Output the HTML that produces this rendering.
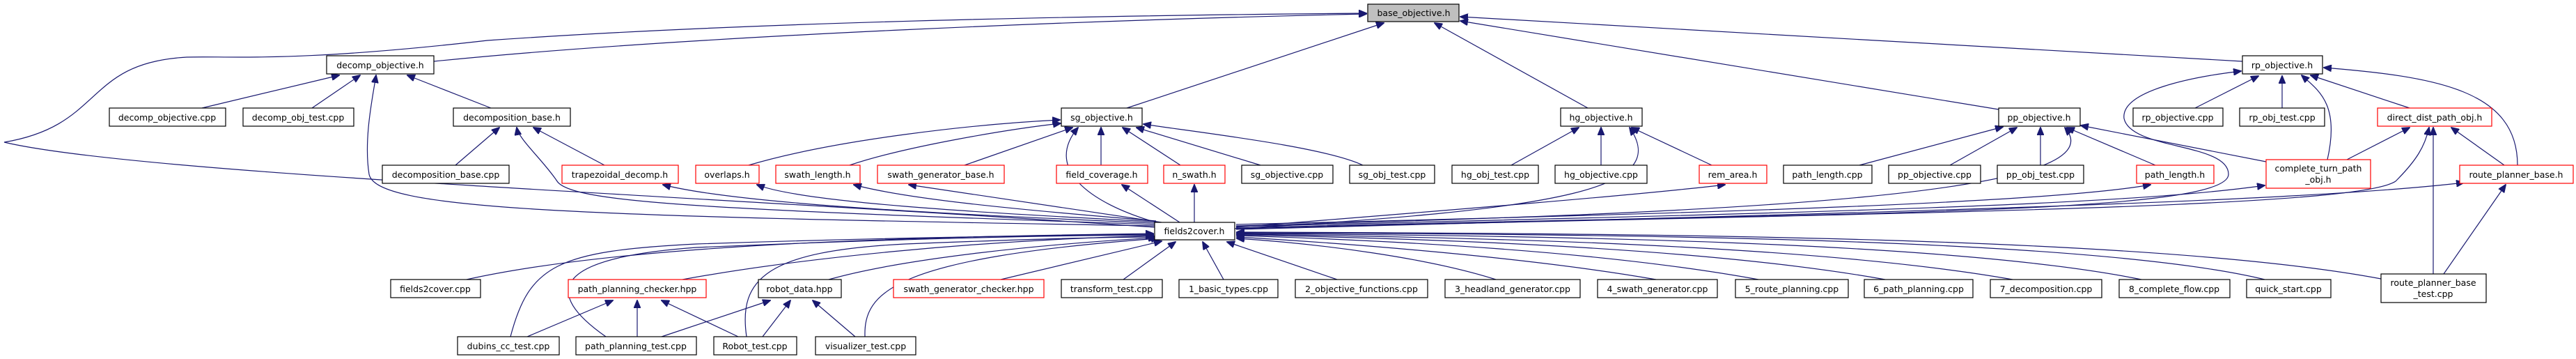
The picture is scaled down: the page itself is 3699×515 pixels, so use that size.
<!DOCTYPE html>
<html><head><meta charset="utf-8"><style>
html,body{margin:0;padding:0;background:#fff;}
svg{display:block;}
text{font-family:"DejaVu Sans","Liberation Sans",sans-serif;font-size:12.5px;fill:#000;text-anchor:middle;}
.n{fill:#fff;stroke:#000;stroke-width:1.2;}
.r{fill:#fff;stroke:#ff0000;stroke-width:1.2;}
.e{fill:none;stroke:#191970;stroke-width:1.2;}
</style></head><body>
<svg width="3699" height="515" viewBox="0 0 3699 515" xmlns="http://www.w3.org/2000/svg">
<defs><marker id="a" markerWidth="12" markerHeight="10" refX="11" refY="5" orient="auto" markerUnits="userSpaceOnUse"><path d="M0,0 L12,5 L0,10 z" fill="#191970" stroke="#191970"/></marker></defs>
<g class="e" marker-end="url(#a)">
<!-- to base_objective.h -->
<path d="M623,88 C1000,50 1600,28 1962,20"/>
<path d="M1658,326 C1000,280 200,250 6,204 C150,180 120,90 268,82 C330,80 420,90 700,58 C1100,30 1600,22 1962,19"/>
<path d="M1618,155 L1987,33"/>
<path d="M2280,155 L2060,33"/>
<path d="M2870,157 L2097,30"/>
<path d="M3220,88 L2097,24"/>
<!-- decomp_objective.h -->
<path d="M290,155 L487,108"/>
<path d="M448,155 L517,108"/>
<path d="M705,155 L585,108"/>
<path d="M1658,324 C800,310 540,300 530,250 C522,200 535,140 540,108"/>
<!-- decomposition_base.h -->
<path d="M654,237 L717,183"/>
<path d="M868,237 L766,183"/>
<path d="M1658,322 C1000,300 820,290 800,260 C780,230 745,200 742,183"/>
<path d="M1658,320 C1300,305 1050,290 952,265"/>
<path d="M1658,318 C1400,305 1150,290 1087,265"/>
<path d="M1660,317 C1450,300 1300,285 1226,265"/>
<path d="M1668,319 L1305,265"/>
<path d="M1694,319 L1611,265"/>
<path d="M1715,319 L1715,265"/>
<!-- sg_objective.h -->
<path d="M1075,237 C1200,200 1400,178 1522,172"/>
<path d="M1220,237 C1300,210 1450,185 1523,177"/>
<path d="M1385,237 L1540,183"/>
<path d="M1581,237 L1581,183"/>
<path d="M1695,237 L1612,183"/>
<path d="M1810,237 L1632,183"/>
<path d="M1957,237 C1900,210 1720,190 1642,178"/>
<path d="M1660,319 C1560,290 1500,240 1548,183"/>
<!-- hg_objective.h -->
<path d="M2170,237 L2267,183"/>
<path d="M2299,237 L2299,183"/>
<path d="M2458,237 L2343,183"/>
<path d="M1773,328 C2250,300 2400,270 2340,183"/>
<path d="M1775,326 C2100,300 2350,280 2477,265"/>
<!-- pp_objective.h -->
<path d="M2670,237 L2876,182"/>
<path d="M2800,237 L2896,183"/>
<path d="M2930,237 L2930,183"/>
<path d="M3095,237 L2968,183"/>
<path d="M3254,232 L2988,180"/>
<path d="M1775,324 C2500,305 3050,280 2965,183"/>
<path d="M1775,322 C2500,305 2950,290 3088,265"/>
<path d="M1775,325 C2600,305 3050,295 3252,266"/>
<!-- rp_objective.h -->
<path d="M3152,155 L3243,109"/>
<path d="M3277,155 L3277,109"/>
<path d="M3460,155 L3318,108"/>
<path d="M3342,229 C3360,150 3330,130 3305,108"/>
<path d="M3615,237 C3615,130 3500,110 3337,97"/>
<path d="M1775,327 C2600,305 3200,310 3200,250 C3200,205 3060,215 3050,170 C3045,130 3150,110 3218,102"/>
<!-- direct_dist_path_obj.h -->
<path d="M3370,229 L3460,183"/>
<path d="M3596,237 L3520,183"/>
<path d="M3494,393 L3494,183"/>
<path d="M1775,328 C2700,305 3380,300 3440,260 C3470,230 3482,210 3488,183"/>
<!-- route_planner_base.h -->
<path d="M1775,329 C2700,305 3300,290 3538,262"/>
<path d="M3509,393 L3598,265"/>
<!-- fields2cover.h children -->
<path d="M670,401 C900,350 1300,340 1656,335"/>
<path d="M980,401 C1150,370 1400,345 1656,338"/>
<path d="M1190,401 C1300,370 1500,350 1660,341"/>
<path d="M1437,401 L1668,346"/>
<path d="M1613,401 L1688,347"/>
<path d="M1757,401 L1727,347"/>
<path d="M1920,401 L1762,347"/>
<path d="M2148,401 C2050,370 1900,350 1776,342"/>
<path d="M2378,401 C2200,370 1950,350 1776,340"/>
<path d="M2525,401 C2300,360 2000,345 1776,338"/>
<path d="M2707,401 C2450,355 2050,342 1776,337"/>
<path d="M2890,401 C2600,350 2100,340 1776,336"/>
<path d="M3075,401 C2800,345 2200,338 1776,335"/>
<path d="M3252,401 C3000,340 2300,336 1776,334"/>
<path d="M3419,400 C3100,340 2400,335 1776,333"/>
<path d="M733,483 C760,380 800,360 1000,350 C1300,340 1500,338 1656,336"/>
<path d="M870,483 C780,420 790,370 1000,355 C1300,342 1500,338 1656,337"/>
<path d="M1072,483 C1060,400 1100,360 1300,350 C1500,342 1600,340 1660,340"/>
<path d="M1242,483 C1240,420 1280,370 1664,342"/>
<!-- path_planning_checker.hpp -->
<path d="M757,483 L880,431"/>
<path d="M915,483 L915,431"/>
<path d="M1060,483 L950,431"/>
<!-- robot_data.hpp -->
<path d="M950,483 L1106,431"/>
<path d="M1095,483 L1135,431"/>
<path d="M1228,483 L1167,431"/>
</g>
<!-- nodes -->
<rect x="1964" y="6" width="131" height="25" fill="#bfbfbf" stroke="#000" stroke-width="1.2"/><text x="2030" y="23">base_objective.h</text>
<rect class="n" x="469" y="80" width="154" height="26"/><text x="546" y="98">decomp_objective.h</text>
<rect class="n" x="3220" y="80" width="115" height="26"/><text x="3277" y="98">rp_objective.h</text>
<rect class="n" x="157" y="155" width="167" height="26"/><text x="240" y="173">decomp_objective.cpp</text>
<rect class="n" x="349" y="155" width="159" height="26"/><text x="428" y="173">decomp_obj_test.cpp</text>
<rect class="n" x="651" y="155" width="168" height="26"/><text x="735" y="173">decomposition_base.h</text>
<rect class="n" x="1524" y="155" width="116" height="26"/><text x="1582" y="173">sg_objective.h</text>
<rect class="n" x="2241" y="155" width="117" height="26"/><text x="2299" y="173">hg_objective.h</text>
<rect class="n" x="2870" y="155" width="117" height="26"/><text x="2928" y="173">pp_objective.h</text>
<rect class="n" x="3063" y="155" width="129" height="26"/><text x="3127" y="173">rp_objective.cpp</text>
<rect class="n" x="3216" y="155" width="122" height="26"/><text x="3277" y="173">rp_obj_test.cpp</text>
<rect class="r" x="3414" y="155" width="164" height="26"/><text x="3496" y="173">direct_dist_path_obj.h</text>
<rect class="n" x="549" y="237" width="182" height="26"/><text x="640" y="255">decomposition_base.cpp</text>
<rect class="r" x="807" y="237" width="167" height="26"/><text x="890" y="255">trapezoidal_decomp.h</text>
<rect class="r" x="999" y="237" width="91" height="26"/><text x="1044" y="255">overlaps.h</text>
<rect class="r" x="1114" y="237" width="121" height="26"/><text x="1174" y="255">swath_length.h</text>
<rect class="r" x="1260" y="237" width="182" height="26"/><text x="1351" y="255">swath_generator_base.h</text>
<rect class="r" x="1517" y="237" width="131" height="26"/><text x="1582" y="255">field_coverage.h</text>
<rect class="r" x="1671" y="237" width="88" height="26"/><text x="1715" y="255">n_swath.h</text>
<rect class="n" x="1783" y="237" width="131" height="26"/><text x="1848" y="255">sg_objective.cpp</text>
<rect class="n" x="1938" y="237" width="122" height="26"/><text x="1999" y="255">sg_obj_test.cpp</text>
<rect class="n" x="2085" y="237" width="124" height="26"/><text x="2147" y="255">hg_obj_test.cpp</text>
<rect class="n" x="2233" y="237" width="132" height="26"/><text x="2299" y="255">hg_objective.cpp</text>
<rect class="r" x="2440" y="237" width="97" height="26"/><text x="2488" y="255">rem_area.h</text>
<rect class="n" x="2561" y="237" width="127" height="26"/><text x="2624" y="255">path_length.cpp</text>
<rect class="n" x="2712" y="237" width="132" height="26"/><text x="2778" y="255">pp_objective.cpp</text>
<rect class="n" x="2868" y="237" width="124" height="26"/><text x="2930" y="255">pp_obj_test.cpp</text>
<rect class="r" x="3068" y="237" width="111" height="26"/><text x="3123" y="255">path_length.h</text>
<rect class="r" x="3254" y="229" width="150" height="41"/><text x="3329" y="246">complete_turn_path</text><text x="3329" y="262">_obj.h</text>
<rect class="r" x="3532" y="237" width="163" height="26"/><text x="3613" y="255">route_planner_base.h</text>
<rect class="n" x="1658" y="319" width="115" height="25"/><text x="1715" y="336">fields2cover.h</text>
<rect class="n" x="561" y="401" width="129" height="26"/><text x="625" y="419">fields2cover.cpp</text>
<rect class="r" x="816" y="401" width="198" height="26"/><text x="915" y="419">path_planning_checker.hpp</text>
<rect class="n" x="1089" y="401" width="119" height="26"/><text x="1148" y="419">robot_data.hpp</text>
<rect class="r" x="1283" y="401" width="216" height="26"/><text x="1391" y="419">swath_generator_checker.hpp</text>
<rect class="n" x="1524" y="401" width="145" height="26"/><text x="1596" y="419">transform_test.cpp</text>
<rect class="n" x="1693" y="401" width="142" height="26"/><text x="1764" y="419">1_basic_types.cpp</text>
<rect class="n" x="1860" y="401" width="190" height="26"/><text x="1955" y="419">2_objective_functions.cpp</text>
<rect class="n" x="2075" y="401" width="194" height="26"/><text x="2172" y="419">3_headland_generator.cpp</text>
<rect class="n" x="2294" y="401" width="172" height="26"/><text x="2380" y="419">4_swath_generator.cpp</text>
<rect class="n" x="2492" y="401" width="162" height="26"/><text x="2573" y="419">5_route_planning.cpp</text>
<rect class="n" x="2677" y="401" width="156" height="26"/><text x="2755" y="419">6_path_planning.cpp</text>
<rect class="n" x="2858" y="401" width="160" height="26"/><text x="2938" y="419">7_decomposition.cpp</text>
<rect class="n" x="3043" y="401" width="159" height="26"/><text x="3122" y="419">8_complete_flow.cpp</text>
<rect class="n" x="3226" y="401" width="121" height="26"/><text x="3286" y="419">quick_start.cpp</text>
<rect class="n" x="3419" y="393" width="151" height="41"/><text x="3494" y="410">route_planner_base</text><text x="3494" y="426">_test.cpp</text>
<rect class="n" x="657" y="483" width="146" height="26"/><text x="730" y="501">dubins_cc_test.cpp</text>
<rect class="n" x="827" y="483" width="173" height="26"/><text x="913" y="501">path_planning_test.cpp</text>
<rect class="n" x="1025" y="483" width="119" height="26"/><text x="1084" y="501">Robot_test.cpp</text>
<rect class="n" x="1171" y="483" width="144" height="26"/><text x="1243" y="501">visualizer_test.cpp</text>
</svg>
</body></html>
